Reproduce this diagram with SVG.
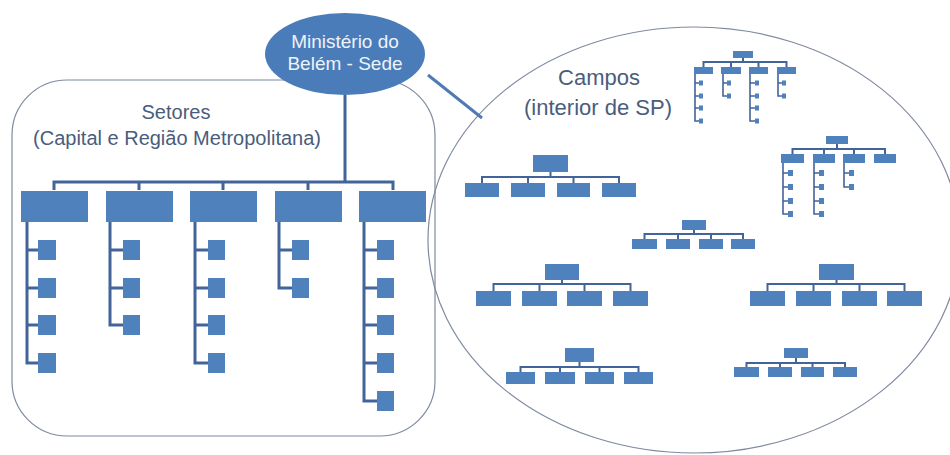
<svg xmlns="http://www.w3.org/2000/svg" width="950" height="455" viewBox="0 0 950 455">
<style>
.bx{fill:#4f81bd}
.ln{stroke:#43649a;stroke-width:3;fill:none}
.sl{stroke:#43649a;stroke-width:2;fill:none}
.xs{stroke:#43649a;stroke-width:1.6;fill:none}
.frame{fill:none;stroke:#7f8aa0;stroke-width:1.2}
.lbl{font-family:"Liberation Sans",Arial,sans-serif;fill:#4a5d7c;text-anchor:middle}
.wt{font-family:"Liberation Sans",Arial,sans-serif;fill:#eef3fa;text-anchor:middle;font-size:19px}
</style>
<rect width="950" height="455" fill="#ffffff"/>
<g id="setores-frame">
<rect class="frame" x="12" y="80" width="423" height="356" rx="55" ry="55"/>
<text class="lbl" x="176" y="119" font-size="20">Setores</text>
<text class="lbl" x="177" y="145" font-size="20">(Capital e Região Metropolitana)</text>
</g>
<g id="campos-frame">
<ellipse class="frame" cx="694" cy="240" rx="266" ry="213"/>
<text class="lbl" x="599" y="85" font-size="22">Campos</text>
<text class="lbl" x="598" y="115" font-size="22">(interior de SP)</text>
</g>
<g id="connectors">
<path d="M428 75 L482 118" stroke="#4f7bb5" stroke-width="3" fill="none"/>
<path class="ln" d="M345 95 V182 M54 190 V182 H393 V190 M139 182 V190 M223 182 V190 M308 182 V190"/>
<path class="ln" d="M27 222 V363 H38 M27 250 H38 M27 288 H38 M27 325 H38"/>
<path class="ln" d="M110 222 V325 H123 M110 250 H123 M110 288 H123"/>
<path class="ln" d="M195 222 V363 H208 M195 250 H208 M195 288 H208 M195 325 H208"/>
<path class="ln" d="M279 222 V288 H292 M279 250 H292"/>
<path class="ln" d="M364 222 V401 H377 M364 250 H377 M364 288 H377 M364 325 H377 M364 363 H377"/>
<path class="sl" d="M743 58 V62 M703.5 67 V62 H786.5 V67 M731 62 V67 M758.5 62 V67"/>
<path class="xs" d="M695 74 V121 H699 M695 83 H699 M695 96 H699 M695 108 H699 M723 74 V96 H727 M723 83 H727 M750 74 V121 H755 M750 83 H755 M750 96 H755 M750 108 H755 M778 74 V96 H782 M778 83 H782"/>
<path class="sl" d="M837 144 V149 M792.5 154 V149 H885 V154 M824 149 V154 M854 149 V154"/>
<path class="xs" d="M783 163 V214 H788 M783 173 H788 M783 187 H788 M783 201 H788 M814 163 V214 H819 M814 173 H819 M814 187 H819 M814 201 H819 M844 163 V187 H849 M844 173 H849"/>
<path class="sl" d="M550.5 172 V177 M482 183 V177 H619 V183 M528 177 V183 M573.5 177 V183"/>
<path class="sl" d="M694 230 V234 M644.5 239 V234 H743 V239 M678 234 V239 M711 234 V239"/>
<path class="sl" d="M562 280 V284 M493.5 291 V284 H630.5 V291 M539.5 284 V291 M584.5 284 V291"/>
<path class="sl" d="M836.5 280 V284 M767.5 291 V284 H904.5 V291 M813.5 284 V291 M859.5 284 V291"/>
<path class="sl" d="M579.5 362 V367 M520.5 372 V367 H638.5 V372 M560 367 V372 M599.5 367 V372"/>
<path class="sl" d="M796 358 V363 M746.5 367 V363 H845 V367 M780 363 V367 M812.5 363 V367"/>
</g>
<g id="ministerio">
<ellipse cx="345" cy="54" rx="80" ry="41" fill="#4a7cba"/>
<text class="wt" x="345" y="48">Ministério do</text>
<text class="wt" x="345" y="70">Belém - Sede</text>
</g>
<g id="setor-1">
<rect class="bx" x="21" y="191" width="67" height="31"/>
<rect class="bx" x="38" y="240" width="18" height="20"/>
<rect class="bx" x="38" y="278" width="18" height="20"/>
<rect class="bx" x="38" y="315" width="18" height="20"/>
<rect class="bx" x="38" y="353" width="18" height="20"/>
</g>
<g id="setor-2">
<rect class="bx" x="106" y="191" width="67" height="31"/>
<rect class="bx" x="123" y="240" width="17" height="20"/>
<rect class="bx" x="123" y="278" width="17" height="20"/>
<rect class="bx" x="123" y="315" width="17" height="20"/>
</g>
<g id="setor-3">
<rect class="bx" x="190" y="191" width="67" height="31"/>
<rect class="bx" x="208" y="240" width="17" height="20"/>
<rect class="bx" x="208" y="278" width="17" height="20"/>
<rect class="bx" x="208" y="315" width="17" height="20"/>
<rect class="bx" x="208" y="353" width="17" height="20"/>
</g>
<g id="setor-4">
<rect class="bx" x="275" y="191" width="67" height="31"/>
<rect class="bx" x="292" y="240" width="17" height="20"/>
<rect class="bx" x="292" y="278" width="17" height="20"/>
</g>
<g id="setor-5">
<rect class="bx" x="359" y="191" width="67" height="31"/>
<rect class="bx" x="377" y="240" width="17" height="20"/>
<rect class="bx" x="377" y="278" width="17" height="20"/>
<rect class="bx" x="377" y="315" width="17" height="20"/>
<rect class="bx" x="377" y="353" width="17" height="20"/>
<rect class="bx" x="377" y="391" width="17" height="20"/>
</g>
<g id="campo-a">
<rect class="bx" x="733" y="51" width="20" height="7"/>
<rect class="bx" x="694" y="67" width="19" height="7"/>
<rect class="bx" x="721" y="67" width="20" height="7"/>
<rect class="bx" x="749" y="67" width="19" height="7"/>
<rect class="bx" x="777" y="67" width="19" height="7"/>
<rect class="bx" x="699" y="80.5" width="4" height="5"/>
<rect class="bx" x="699" y="93.5" width="4" height="5"/>
<rect class="bx" x="699" y="105.5" width="4" height="5"/>
<rect class="bx" x="699" y="118.5" width="4" height="5"/>
<rect class="bx" x="727" y="80.5" width="4" height="5"/>
<rect class="bx" x="727" y="93.5" width="4" height="5"/>
<rect class="bx" x="755" y="80.5" width="4" height="5"/>
<rect class="bx" x="755" y="93.5" width="4" height="5"/>
<rect class="bx" x="755" y="105.5" width="4" height="5"/>
<rect class="bx" x="755" y="118.5" width="4" height="5"/>
<rect class="bx" x="782" y="80.5" width="4" height="5"/>
<rect class="bx" x="782" y="93.5" width="4" height="5"/>
</g>
<g id="campo-b">
<rect class="bx" x="533" y="155" width="35" height="17"/>
<rect class="bx" x="465" y="183" width="34" height="14"/>
<rect class="bx" x="511" y="183" width="34" height="14"/>
<rect class="bx" x="557" y="183" width="33" height="14"/>
<rect class="bx" x="602" y="183" width="34" height="14"/>
</g>
<g id="campo-c">
<rect class="bx" x="826" y="136" width="22" height="8"/>
<rect class="bx" x="781" y="154" width="23" height="9"/>
<rect class="bx" x="813" y="154" width="22" height="9"/>
<rect class="bx" x="843" y="154" width="22" height="9"/>
<rect class="bx" x="874" y="154" width="22" height="9"/>
<rect class="bx" x="788" y="170" width="5" height="6"/>
<rect class="bx" x="788" y="184" width="5" height="6"/>
<rect class="bx" x="788" y="198" width="5" height="6"/>
<rect class="bx" x="788" y="211" width="5" height="6"/>
<rect class="bx" x="819" y="170" width="5" height="6"/>
<rect class="bx" x="819" y="184" width="5" height="6"/>
<rect class="bx" x="819" y="198" width="5" height="6"/>
<rect class="bx" x="819" y="211" width="5" height="6"/>
<rect class="bx" x="849" y="170" width="5" height="6"/>
<rect class="bx" x="849" y="184" width="5" height="6"/>
</g>
<g id="campo-d">
<rect class="bx" x="682" y="220" width="24" height="10"/>
<rect class="bx" x="632" y="239" width="25" height="10"/>
<rect class="bx" x="666" y="239" width="24" height="10"/>
<rect class="bx" x="699" y="239" width="24" height="10"/>
<rect class="bx" x="731" y="239" width="24" height="10"/>
</g>
<g id="campo-e">
<rect class="bx" x="545" y="264" width="34" height="16"/>
<rect class="bx" x="476" y="291" width="35" height="15"/>
<rect class="bx" x="522" y="291" width="35" height="15"/>
<rect class="bx" x="567" y="291" width="35" height="15"/>
<rect class="bx" x="613" y="291" width="35" height="15"/>
</g>
<g id="campo-f">
<rect class="bx" x="819" y="264" width="35" height="16"/>
<rect class="bx" x="750" y="291" width="35" height="15"/>
<rect class="bx" x="796" y="291" width="35" height="15"/>
<rect class="bx" x="842" y="291" width="35" height="15"/>
<rect class="bx" x="887" y="291" width="35" height="15"/>
</g>
<g id="campo-g">
<rect class="bx" x="565" y="348" width="29" height="14"/>
<rect class="bx" x="506" y="372" width="29" height="12"/>
<rect class="bx" x="545" y="372" width="30" height="12"/>
<rect class="bx" x="585" y="372" width="29" height="12"/>
<rect class="bx" x="624" y="372" width="29" height="12"/>
</g>
<g id="campo-h">
<rect class="bx" x="784" y="348" width="24" height="10"/>
<rect class="bx" x="734" y="367" width="25" height="10"/>
<rect class="bx" x="768" y="367" width="24" height="10"/>
<rect class="bx" x="801" y="367" width="23" height="10"/>
<rect class="bx" x="833" y="367" width="24" height="10"/>
</g>
</svg>
